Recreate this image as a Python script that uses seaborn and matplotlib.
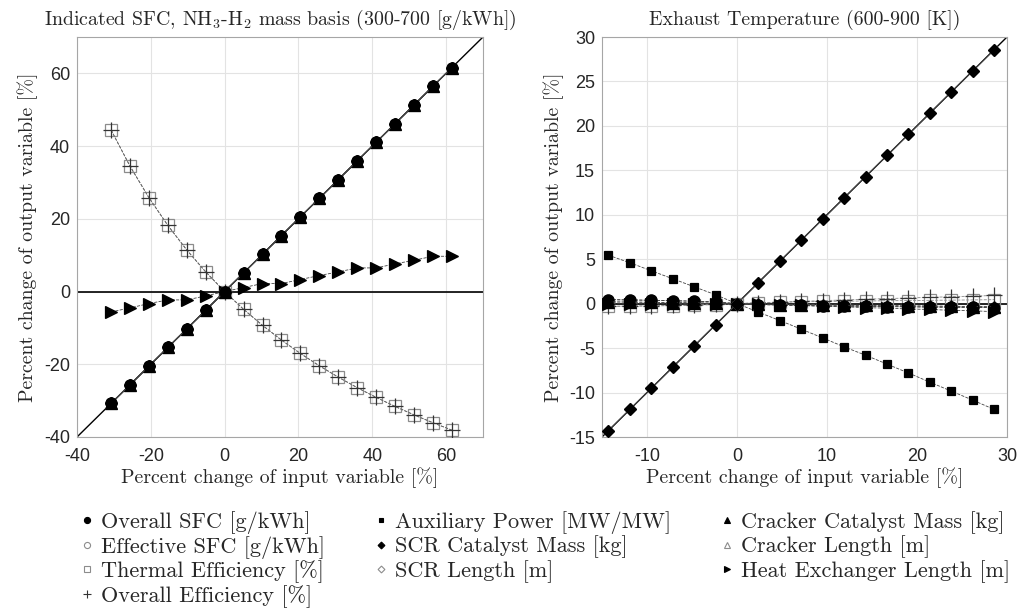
import numpy as np
import pandas as pd
import matplotlib
matplotlib.use("Agg")
import matplotlib.pyplot as plt
import seaborn as sns
from matplotlib.lines import Line2D

# ---------------- data ----------------
# Left panel: Indicated SFC (300-700 g/kWh), percent change of input
x_sfc = [-30.77, -25.64, -20.51, -15.38, -10.26, -5.13, 0.0, 5.13, 10.26, 15.38,
         20.51, 25.64, 30.77, 35.90, 41.03, 46.15, 51.28, 56.41, 61.54]
# outputs proportional to input (overall/effective SFC, aux power, catalysts, lengths)
prop_sfc = [-30.77, -25.64, -20.51, -15.38, -10.26, -5.13, 0.0, 5.13, 10.26, 15.38,
            20.51, 25.64, 30.77, 35.90, 41.03, 46.15, 51.28, 56.41, 61.54]
eff_sfc = [44.44, 34.48, 25.81, 18.18, 11.43, 5.41, 0.0, -4.88, -9.30, -13.33,
           -17.02, -20.41, -23.53, -26.42, -29.09, -31.58, -33.90, -36.07, -38.10]
hx_sfc = [-5.6, -4.5, -3.3, -2.3, -2.3, -1.2, 0.0, 1.1, 2.2, 2.2,
          3.3, 4.4, 5.4, 6.5, 6.5, 7.6, 8.6, 9.7, 9.7]

# Right panel: Exhaust temperature (600-900 K)
x_tex = [-14.29, -11.90, -9.52, -7.14, -4.76, -2.38, 0.0, 2.38, 4.76, 7.14,
         9.52, 11.90, 14.29, 16.67, 19.05, 21.43, 23.81, 26.19, 28.57]
sfc_tex = [0.45, 0.42, 0.38, 0.33, 0.28, 0.20, 0.0, -0.10, -0.15, -0.20,
           -0.25, -0.28, -0.30, -0.33, -0.35, -0.38, -0.40, -0.42, -0.45]
therm_tex = [-0.30, -0.28, -0.25, -0.22, -0.18, -0.10, 0.0, 0.10, 0.15, 0.20,
             0.25, 0.28, 0.30, 0.33, 0.35, 0.38, 0.40, 0.42, 0.45]
oeff_tex = [-0.30, -0.27, -0.24, -0.20, -0.15, -0.08, 0.0, 0.10, 0.18, 0.26,
            0.34, 0.42, 0.50, 0.57, 0.64, 0.71, 0.78, 0.85, 0.92]
aux_tex = [5.45, 4.60, 3.70, 2.80, 1.90, 1.00, 0.0, -0.95, -1.90, -2.87,
           -3.85, -4.86, -5.80, -6.80, -7.80, -8.83, -9.84, -10.85, -11.90]
scr_tex = [-14.29, -11.90, -9.52, -7.14, -4.76, -2.38, 0.0, 2.38, 4.76, 7.14,
           9.52, 11.90, 14.29, 16.67, 19.05, 21.43, 23.81, 26.19, 28.57]
crk_tex = [0.20, 0.18, 0.15, 0.12, 0.10, 0.05, 0.0, -0.05, -0.10, -0.12,
           -0.15, -0.18, -0.20, -0.22, -0.25, -0.27, -0.30, -0.32, -0.35]
hx_tex = [0.0, 0.0, 0.0, 0.0, 0.0, 0.0, 0.0, -0.05, -0.10, -0.20,
          -0.30, -0.35, -0.45, -0.50, -0.60, -0.65, -0.75, -0.80, -0.90]

labels = ["Overall SFC [g/kWh]", "Effective SFC [g/kWh]", "Thermal Efficiency [%]",
          "Overall Efficiency [%]", "Auxiliary Power [MW/MW]", "SCR Catalyst Mass [kg]",
          "SCR Length [m]", "Cracker Catalyst Mass [kg]", "Cracker Length [m]",
          "Heat Exchanger Length [m]"]

# ---------------- style ----------------
sns.set_theme(style="whitegrid")
plt.rcParams['font.family'] = ['cmr10', 'DejaVu Serif']
plt.rcParams['mathtext.fontset'] = 'cm'
plt.rcParams['axes.formatter.use_mathtext'] = False
plt.rcParams['axes.unicode_minus'] = False

GRAY = "#8c8c8c"
BLK = "black"
# marker styles per label: (marker, facecolor, edgecolor, size)
mstyle = {
    labels[0]: ("o", BLK, BLK, 8),
    labels[1]: ("o", "none", GRAY, 8),
    labels[2]: ("s", "none", GRAY, 9),
    labels[3]: ("+", GRAY, "#333333", 11),
    labels[4]: ("s", BLK, BLK, 6),
    labels[5]: ("D", BLK, BLK, 6.3),
    labels[6]: ("D", "none", GRAY, 6.3),
    labels[7]: ("^", BLK, BLK, 8),
    labels[8]: ("^", "none", GRAY, 8),
    labels[9]: (">", BLK, BLK, 8),
}

fig = plt.figure(figsize=(10.29, 6.12), dpi=100)
axL = fig.add_axes([77/1029, 1-437/612, 406/1029, 400/612])
axR = fig.add_axes([602/1029, 1-437/612, 405/1029, 400/612])


def draw(ax, x, y, lab, ls="--", lw=0.6, lc="#444444"):
    m, fc, ec, ms = mstyle[lab]
    sns.lineplot(x=x, y=y, ax=ax, sort=False, estimator=None, color=lc,
                 linestyle=ls, linewidth=lw, marker=m, markersize=ms,
                 markerfacecolor=fc, markeredgecolor=ec, markeredgewidth=0.9,
                 legend=False, zorder=3)


for ax in (axL, axR):
    ax.axline((0, 0), slope=1, color=BLK, lw=1.0, zorder=2)
    ax.axhline(0, color=BLK, lw=1.2, zorder=2)

# left panel
draw(axL, x_sfc, eff_sfc, labels[2], lc="#666666")
draw(axL, x_sfc, eff_sfc, labels[3], lc="#666666")
draw(axL, x_sfc, hx_sfc, labels[9])
draw(axL, x_sfc, prop_sfc, labels[1], ls="-")
draw(axL, x_sfc, prop_sfc, labels[8], ls="-")
draw(axL, x_sfc, prop_sfc, labels[6], ls="-")
draw(axL, x_sfc, prop_sfc, labels[4], ls="-")
draw(axL, x_sfc, prop_sfc, labels[7], ls="-")
draw(axL, x_sfc, prop_sfc, labels[5], ls="-")
draw(axL, x_sfc, prop_sfc, labels[0], ls="-")

# right panel
draw(axR, x_tex, therm_tex, labels[2], lc="#888888")
draw(axR, x_tex, oeff_tex, labels[3], lc="#888888")
draw(axR, x_tex, sfc_tex, labels[1])
draw(axR, x_tex, crk_tex, labels[8], lc="#888888")
draw(axR, x_tex, sfc_tex, labels[0])
draw(axR, x_tex, crk_tex, labels[7])
draw(axR, x_tex, hx_tex, labels[9])
draw(axR, x_tex, aux_tex, labels[4])
draw(axR, x_tex, scr_tex, labels[6], ls="-")
draw(axR, x_tex, scr_tex, labels[5], ls="-")

axL.set_xlim(-40, 70)
axL.set_ylim(-40, 70)
axL.set_xticks([-40, -20, 0, 20, 40, 60])
axL.set_yticks([-40, -20, 0, 20, 40, 60])
axR.set_xlim(-15, 30)
axR.set_ylim(-15, 30)
axR.set_xticks([-10, 0, 10, 20, 30])
axR.set_yticks([-15, -10, -5, 0, 5, 10, 15, 20, 25, 30])

axL.set_title(r"Indicated SFC, NH$_3$-H$_2$ mass basis (300-700 [g/kWh])", fontsize=14.3, pad=9)
axR.set_title("Exhaust Temperature (600-900 [K])", fontsize=14.3, pad=9)

for ax in (axL, axR):
    ax.set_xlabel("Percent change of input variable [%]", fontsize=14.3, labelpad=1.5)
    ax.set_ylabel("Percent change of output variable [%]", fontsize=14.3, labelpad=4)
    ax.tick_params(axis="both", labelsize=13, labelfontfamily="Liberation Sans",
                   labelcolor="#262626", length=0)
    ax.tick_params(axis="x", pad=8)
    ax.tick_params(axis="y", pad=5)
    ax.grid(True, color="#e3e3e3", lw=0.8)
    for s in ax.spines.values():
        s.set_color("#a6a6a6")
        s.set_linewidth(0.8)

handles = []
for lab in labels:
    m, fc, ec, ms = mstyle[lab]
    handles.append(Line2D([], [], linestyle="none", marker=m, markersize=ms * 0.55,
                          markerfacecolor=fc, markeredgecolor=ec, markeredgewidth=0.8))
fig.legend(handles, labels, loc="upper left", bbox_to_anchor=(0.079, 0.165), ncol=3,
           frameon=False, fontsize=16, handlelength=0.5, handletextpad=0.4,
           columnspacing=2.25, labelspacing=0.08, borderaxespad=0, borderpad=0)

fig.savefig("out.png", dpi=100)
